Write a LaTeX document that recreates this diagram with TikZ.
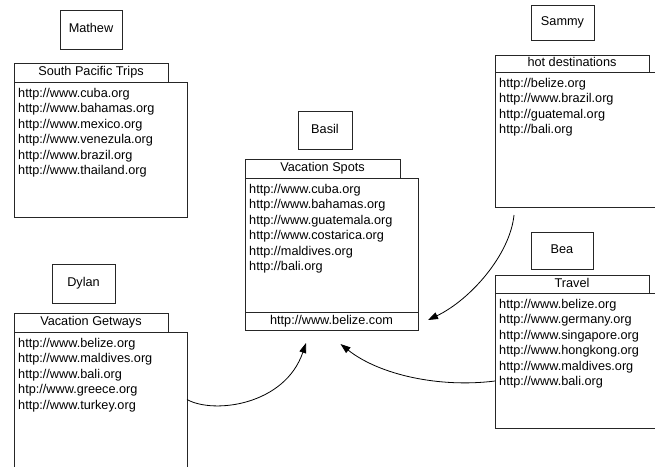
\documentclass[tikz,border=0pt]{standalone}
\usepackage{fontspec}
\setmainfont{Liberation Sans}
\usetikzlibrary{arrows.meta,calc}

\tikzset{
  frame/.style={draw=black!85, line width=0.9pt, inner sep=0pt, outer sep=0pt,
                text height=9.1pt, text depth=2.7pt},
  owner/.style={frame},
  head/.style={frame},
  body/.style={frame},
  url/.style={anchor=base west, inner sep=0pt},
  link/.style={draw=black, line width=0.8pt, -{Triangle[length=10pt,width=7pt]}},
}

\begin{document}
\begin{tikzpicture}[x=1pt, y=-1pt, font=\fontsize{12.7}{15.4}\selectfont]
  \useasboundingbox (0,0) rectangle (655,466);
  \fill[white] (0,0) rectangle (655,466);
  \clip (0,0) rectangle (655,466);

  % Mathew
  \node[owner, minimum width=62pt, minimum height=39pt] (mathew) at (91,29.5) {Mathew};
  \node[head, minimum width=154pt, minimum height=19pt] (sptHead) at (91,72.5) {South Pacific Trips};
  \node[body, minimum width=173pt, minimum height=135pt] (sptBody) at (100.5,149.5) {};
  \foreach \u [count=\i from 0] in {http://www.cuba.org, http://www.bahamas.org,
      http://www.mexico.org, http://www.venezula.org, http://www.brazil.org,
      http://www.thailand.org}
    \node[url] (spt-\i) at ($(sptBody.north west)+(4,15.5+15.4*\i)$) {\u};

  % Basil
  \node[owner, minimum width=54pt, minimum height=38pt] (basil) at (325,130) {Basil};
  \node[head, minimum width=155pt, minimum height=19pt] (vsHead) at (322.5,168.5) {Vacation Spots};
  \node[body, minimum width=173pt, minimum height=134pt] (vsBody) at (331.5,245) {};
  \node[body, minimum width=173pt, minimum height=18pt] (vsFoot) at (331.5,321) {http://www.belize.com};
  \foreach \u [count=\i from 0] in {http://www.cuba.org, http://www.bahamas.org,
      http://www.guatemala.org, http://www.costarica.org, http://maldives.org,
      http://bali.org}
    \node[url] (vs-\i) at ($(vsBody.north west)+(4,15.5+15.4*\i)$) {\u};

  % Sammy
  \node[owner, minimum width=63pt, minimum height=35pt] (sammy) at (562.5,22.5) {Sammy};
  \node[head, minimum width=154pt, minimum height=17pt] (hdHead) at (572,63.5) {hot destinations};
  \node[body, minimum width=173pt, minimum height=135pt] (hdBody) at (581.5,139.5) {};
  \foreach \u [count=\i from 0] in {http://belize.org, http://www.brazil.org,
      http://guatemal.org, http://bali.org}
    \node[url] (hd-\i) at ($(hdBody.north west)+(4,15.5+15.4*\i)$) {\u};

  % Dylan
  \node[owner, minimum width=63pt, minimum height=39pt] (dylan) at (83.5,283.5) {Dylan};
  \node[head, minimum width=154pt, minimum height=19pt] (vgHead) at (91,322.5) {Vacation Getways};
  \node[body, minimum width=173pt, minimum height=135pt] (vgBody) at (100.5,399.5) {};
  \foreach \u [count=\i from 0] in {http://www.belize.org, http://www.maldives.org,
      http://www.bali.org, htp://www.greece.org, http://www.turkey.org}
    \node[url] (vg-\i) at ($(vgBody.north west)+(4,15.5+15.4*\i)$) {\u};

  % Bea
  \node[owner, minimum width=62pt, minimum height=37pt] (bea) at (562,250.5) {Bea};
  \node[head, minimum width=154pt, minimum height=18pt] (trHead) at (572,284) {Travel};
  \node[body, minimum width=173pt, minimum height=135pt] (trBody) at (581.5,360.5) {};
  \foreach \u [count=\i from 0] in {http://www.belize.org, http://www.germany.org,
      http://www.singapore.org, http://www.hongkong.org, http://www.maldives.org,
      http://www.bali.org}
    \node[url] (tr-\i) at ($(trBody.north west)+(4,15.5+15.4*\i)$) {\u};

  % connectors into the shared list
  \coordinate (fromHot) at ($(hdBody.south west)+(19,8)$);
  \coordinate (toFootR) at ($(vsFoot.east)+(10,-1)$);
  \coordinate (toFootL) at ($(vsFoot.south west)+(61,13)$);
  \coordinate (fromTravel) at ($(trBody.north west)+(0,88)$);
  \coordinate (toFootM) at ($(vsFoot.south)+(9,14)$);

  \draw[link] (fromHot) .. controls +(-4,40) and +(42,-20) .. (toFootR);
  \draw[link] (vgBody.east) .. controls +(27,15) and +(-21,62) .. (toFootL);
  \draw[link] (fromTravel) .. controls +(-55,7) and +(39,31) .. (toFootM);
\end{tikzpicture}
\end{document}
